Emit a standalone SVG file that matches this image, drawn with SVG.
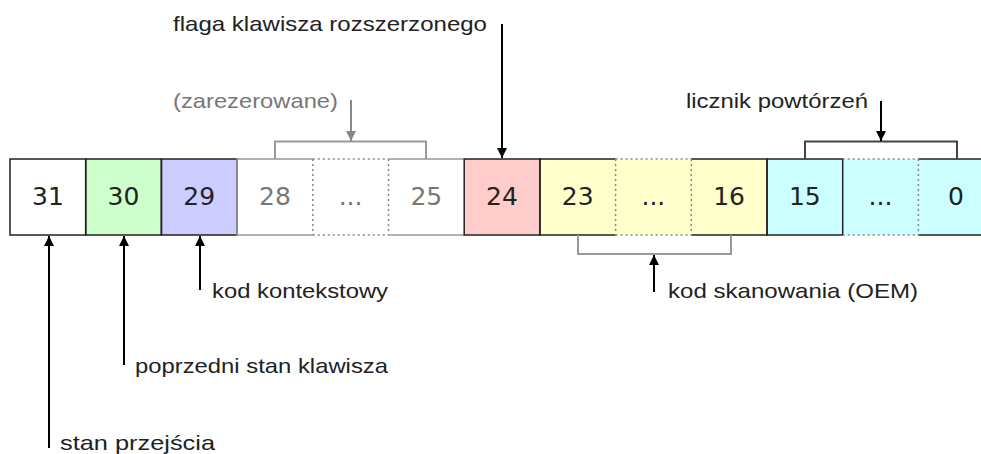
<svg xmlns="http://www.w3.org/2000/svg" width="981" height="454" viewBox="0 0 981 454">
<defs>
<marker id="ah" viewBox="0 0 10 10" refX="10" refY="5" markerWidth="11" markerHeight="10" markerUnits="userSpaceOnUse" orient="auto"><path d="M0,0 L10,5 L0,10 z" fill="#000"/></marker>
<marker id="ahg" viewBox="0 0 10 10" refX="10" refY="5" markerWidth="11" markerHeight="10" markerUnits="userSpaceOnUse" orient="auto"><path d="M0,0 L10,5 L0,10 z" fill="#888"/></marker>
</defs>
<style>
.num{font-family:"DejaVu Sans",Verdana,sans-serif;font-size:25px;fill:#222;text-anchor:middle}
.gnum{fill:#777}
.lbl{font-family:"Liberation Sans",Arial,sans-serif;font-size:21px;fill:#222}
.glbl{fill:#777}
.solid{stroke:#222;stroke-width:1.5;fill:none}
.gsolid{stroke:#999;stroke-width:1.5;fill:none}
.dot{stroke:#888;stroke-width:1.5;stroke-dasharray:2 3;fill:none}
.arr{stroke:#000;stroke-width:2;fill:none;marker-end:url(#ah)}
.garr{stroke:#888;stroke-width:2;fill:none;marker-end:url(#ahg)}
.br{stroke:#444;stroke-width:2;fill:none}
.gbr{stroke:#999;stroke-width:2;fill:none}
</style>
<rect width="981" height="454" fill="#fff"/>
<g id="cells-fill">
<rect x="10" y="159" width="75.7" height="76" fill="#fff"/>
<rect x="85.7" y="159" width="75.7" height="76" fill="#ccffcc"/>
<rect x="161.4" y="159" width="75.7" height="76" fill="#ccccff"/>
<rect x="464.2" y="159" width="75.7" height="76" fill="#ffcccc"/>
<rect x="539.9" y="159" width="227.1" height="76" fill="#ffffcc"/>
<rect x="767" y="159" width="214" height="76" fill="#ccffff"/>
</g>
<g id="cell31"><path class="solid" d="M10,159 H85.7 V235 H10 Z"/><text class="num" x="48" y="205">31</text></g>
<g id="cell30"><path class="solid" d="M85.7,159 H161.4 V235 H85.7 Z"/><text class="num" x="123.5" y="205">30</text></g>
<g id="cell29"><path class="solid" d="M161.4,159 H237.1 V235 H161.4 Z"/><text class="num" x="199.2" y="205">29</text></g>
<g id="cell28"><path class="gsolid" d="M312.8,235 H237.1 V159 H312.8"/><path class="dot" d="M312.8,159 V235"/><text class="num gnum" x="275" y="205">28</text></g>
<g id="cellR"><path class="dot" d="M312.8,159 H388.5 M312.8,235 H388.5"/><text class="num gnum" x="350.6" y="205">...</text></g>
<g id="cell25"><path class="gsolid" d="M388.5,159 H464.2 M388.5,235 H464.2"/><path class="dot" d="M388.5,159 V235"/><text class="num gnum" x="426.3" y="205">25</text></g>
<g id="cell24"><path class="solid" d="M464.2,159 H539.9 V235 H464.2 Z"/><text class="num" x="502" y="205">24</text></g>
<g id="cell23"><path class="solid" d="M615.6,159 H539.9 V235 H615.6"/><path class="dot" d="M615.6,159 V235"/><text class="num" x="577.7" y="205">23</text></g>
<g id="cellS"><path class="dot" d="M615.6,159 H691.3 M615.6,235 H691.3"/><text class="num" x="653.4" y="205">...</text></g>
<g id="cell16"><path class="solid" d="M691.3,159 H767 V235 H691.3"/><path class="dot" d="M691.3,159 V235"/><text class="num" x="729.1" y="205">16</text></g>
<g id="cell15"><path class="solid" d="M767,159 H842.7 V235 H767 Z"/><text class="num" x="804.8" y="205">15</text></g>
<g id="cellC"><path class="dot" d="M842.7,159 H918.4 M842.7,235 H918.4"/><text class="num" x="880.5" y="205">...</text></g>
<g id="cell0"><path class="solid" d="M918.4,159 H990 M918.4,235 H990"/><path class="dot" d="M918.4,159 V235"/><text class="num" x="956" y="205">0</text></g>
<g id="connectors">
<path class="gbr" d="M275,159 V141.5 H426 V159"/>
<path class="garr" d="M351,100 V141"/>
<path class="arr" d="M502,24 V158"/>
<path class="br" d="M805,159 V141.5 H957 V159"/>
<path class="arr" d="M881,101 V141"/>
<path class="gbr" d="M578,235 V254 H731 V235"/>
<path class="arr" d="M654,292 V255"/>
<path class="arr" d="M49,448 V236"/>
<path class="arr" d="M124,365 V236"/>
<path class="arr" d="M200,290 V236"/>
</g>
<g id="labels">
<text class="lbl" x="173" y="31" textLength="314" lengthAdjust="spacingAndGlyphs">flaga klawisza rozszerzonego</text>
<text class="lbl glbl" x="173" y="108" textLength="165" lengthAdjust="spacingAndGlyphs">(zarezerowane)</text>
<text class="lbl" x="686" y="108" textLength="182" lengthAdjust="spacingAndGlyphs">licznik powtórzeń</text>
<text class="lbl" x="668" y="298" textLength="250" lengthAdjust="spacingAndGlyphs">kod skanowania (OEM)</text>
<text class="lbl" x="212" y="298" textLength="176" lengthAdjust="spacingAndGlyphs">kod kontekstowy</text>
<text class="lbl" x="135" y="373" textLength="253" lengthAdjust="spacingAndGlyphs">poprzedni stan klawisza</text>
<text class="lbl" x="60" y="450" textLength="155" lengthAdjust="spacingAndGlyphs">stan przejścia</text>
</g>
</svg>
